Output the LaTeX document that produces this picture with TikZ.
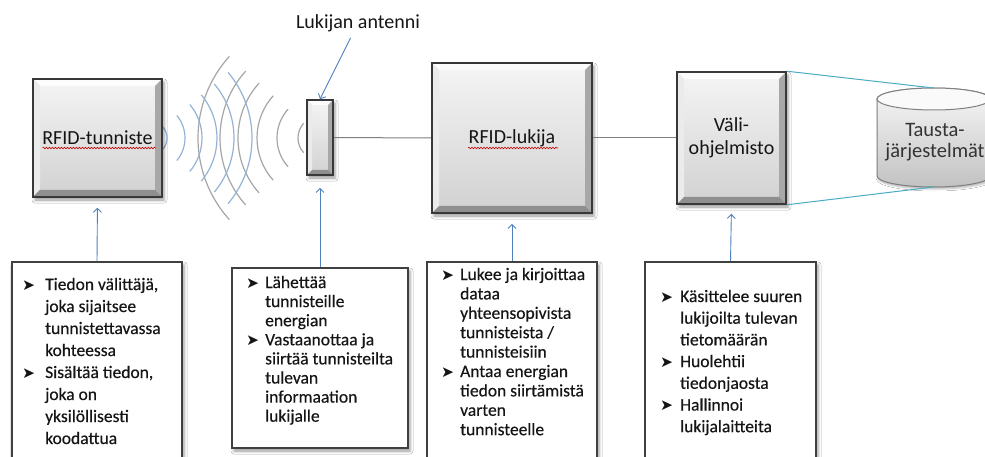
\documentclass[tikz,border=0pt]{standalone}
\usepackage{fontspec}
\setmainfont{Carlito}
\newfontfamily\symfont{DejaVu Sans}
\newfontfamily\listfont[FakeBold=0.35]{Carlito}
\usetikzlibrary{arrows.meta,shadows.blur,decorations.pathmorphing}

\definecolor{wavblue}{HTML}{95B3D7}
\definecolor{wavgray}{HTML}{A6A6A6}
\definecolor{linkgray}{HTML}{7F7F7F}
\definecolor{arrblue}{HTML}{4F81BD}
\definecolor{dbline}{HTML}{4BACC6}
\definecolor{ink}{HTML}{151515}

% arrowhead bullet for the description lists
\newcommand\bul{\raisebox{0pt}{\symfont\fontsize{15.5}{15.5}\selectfont ➤}}

% bevelled edges of the raised boxes
\newcommand\bevelfaces[1]{%
  \coordinate (bnw) at (path picture bounding box.north west);
  \coordinate (bne) at (path picture bounding box.north east);
  \coordinate (bsw) at (path picture bounding box.south west);
  \coordinate (bse) at (path picture bounding box.south east);
  \fill[black!1] (bnw) -- (bne) -- ([shift={(-#1,-#1)}]bne) -- ([shift={(#1,-#1)}]bnw) -- cycle;
  \fill[black!8] (bnw) -- ([shift={(#1,-#1)}]bnw) -- ([shift={(#1,#1)}]bsw) -- (bsw) -- cycle;
  \fill[black!34] (bne) -- ([shift={(-#1,-#1)}]bne) -- ([shift={(-#1,#1)}]bse) -- (bse) -- cycle;
  \fill[black!44] (bsw) -- ([shift={(#1,#1)}]bsw) -- ([shift={(-#1,#1)}]bse) -- (bse) -- cycle;
}

\begin{document}
\begin{tikzpicture}[x=1pt,y=-1pt,
  softshadow/.style={blur shadow={shadow xshift=2pt,shadow yshift=-3pt,shadow blur radius=3pt,shadow opacity=40}},
  bevelbox/.style={draw=black!78, line width=1.6pt, inner sep=0pt, top color=black!4, bottom color=black!18,
    font=\fontsize{20}{23}\selectfont, text=ink, align=center, softshadow,
    path picture={\bevelfaces{#1}}},
  frame/.style={draw=black!75, line width=1.1pt, fill=white, inner sep=0pt, softshadow},
  boxtext/.style={anchor=base west, inner sep=0pt, text=ink, font=\listfont\fontsize{17.5}{#1}\selectfont},
  wave/.style={line width=1.2pt},
  link/.style={draw=linkgray, line width=1pt},
  dblink/.style={draw=dbline, line width=1pt},
  uparrow/.style={draw=arrblue, line width=0.9pt, -{Straight Barb[length=4pt,width=8pt]}},
  spell/.style={draw=red!80!black, line width=0.6pt, decorate,
    decoration={snake, amplitude=0.8pt, segment length=3pt}}
]
\useasboundingbox (0,0) rectangle (985,457);
\clip (0,0) rectangle (985,457);
\fill[white] (0,0) rectangle (985,457);

% radio waves of the tag and of the reader antenna
\foreach \r in {22,43,63,82,100,122}
  \draw[wave,wavgray] (320,138) ++(138:\r) arc[start angle=138,end angle=222,radius=\r];
\foreach \r in {17,35,52,67,84,102}
  \draw[wave,wavblue] (150,138) ++(-40:\r) arc[start angle=-40,end angle=40,radius=\r];

% main components
\node[bevelbox=7pt, minimum width=129pt, minimum height=118pt] (tag) at (97.5,138) {RFID-tunniste};
\node[bevelbox=5pt, minimum width=26pt, minimum height=75pt] (ant) at (320,137.5) {};
\node[bevelbox=7pt, minimum width=160pt, minimum height=150pt] (reader) at (512,138) {RFID-lukija};
\node[bevelbox=7pt, minimum width=109pt, minimum height=132pt] (mw) at (731.5,138) {Väli-\\ohjelmisto};

\draw[spell] ([shift={(-55pt,-10pt)}]tag.center) -- ([shift={(58pt,-10pt)}]tag.center);
\draw[spell] ([shift={(-44pt,-10pt)}]reader.center) -- ([shift={(46pt,-10pt)}]reader.center);

% back-end database cylinder
\path[top color=black!3, bottom color=black!24, draw=black!50, line width=1pt,
      blur shadow={shadow xshift=1pt,shadow yshift=-2pt,shadow blur radius=2pt,shadow opacity=30}]
  (877,99) -- (877,176) arc[start angle=180,end angle=360,x radius=56.5pt,y radius=11pt]
  -- (990,99) arc[start angle=0,end angle=180,x radius=56.5pt,y radius=11pt] -- cycle;
\draw[black!50, line width=1pt, fill=black!2] (933.5,99) ellipse[x radius=56.5pt,y radius=11pt];
\coordinate (dbtop) at (933.5,88);
\coordinate (dbbot) at (933.5,187);
\node[font=\fontsize{20.5}{21}\selectfont, text=black!80, align=center] (dbtxt) at (935,142) {Tausta-\\järjestelmät};

% connections
\draw[link] (ant.east) -- (reader.west);
\draw[link] (reader.east) -- (mw.west);
\draw[dblink] (mw.north east) -- (dbtop);
\draw[dblink] (mw.south east) -- (dbbot);

% antenna caption
\node[font=\fontsize{20}{23}\selectfont, text=ink] (lbl) at (358,23) {Lukijan antenni};
\draw[uparrow, shorten <=3pt] ([xshift=-6pt]lbl.south) -- (ant.north);

% description boxes
\node[frame, minimum width=170pt, minimum height=213pt] (f1) at (97,368.5) {};
\node[frame, minimum width=176pt, minimum height=180pt] (f2) at (320,358) {};
\node[frame, minimum width=170pt, minimum height=213pt] (f3) at (512,368.5) {};
\node[frame, minimum width=171pt, minimum height=213pt] (f4) at (730.5,368.5) {};

\draw[uparrow, shorten >=10pt] (f1.north) -- (tag.south);
\draw[uparrow, shorten >=12pt] (f2.north) -- (ant.south);
\draw[uparrow, shorten >=10pt] (f3.north) -- (reader.south);
\draw[uparrow, shorten >=9pt] (f4.north) -- (mw.south);

\node[boxtext=22] (t1) at (22,290) {\begin{tabular}[t]{@{}p{23pt}@{}l@{}}
\bul & Tiedon välittäjä,\\
 & joka sijaitsee\\
 & tunnistettavassa\\
 & kohteessa\\
\bul & Sisältää tiedon,\\
 & joka on\\
 & yksilöllisesti\\
 & koodattua
\end{tabular}};

\node[boxtext=19.1] (t2) at (246,288) {\begin{tabular}[t]{@{}p{19pt}@{}l@{}}
\bul & Lähettää\\
 & tunnisteille\\
 & energian\\
\bul & Vastaanottaa ja\\
 & siirtää tunnisteilta\\
 & tulevan\\
 & informaation\\
 & lukijalle
\end{tabular}};

\node[boxtext=19.4] (t3) at (441,280) {\begin{tabular}[t]{@{}p{19pt}@{}l@{}}
\bul & Lukee ja kirjoittaa\\
 & dataa\\
 & yhteensopivista\\
 & tunnisteista /\\
 & tunnisteisiin\\
\bul & Antaa energian\\
 & tiedon siirtämistä\\
 & varten\\
 & tunnisteelle
\end{tabular}};

\node[boxtext=21.7] (t4) at (660,302) {\begin{tabular}[t]{@{}p{20pt}@{}l@{}}
\bul & Käsittelee suuren\\
 & lukijoilta tulevan\\
 & tietomäärän\\
\bul & Huolehtii\\
 & tiedonjaosta\\
\bul & Hallinnoi\\
 & lukijalaitteita
\end{tabular}};
\end{tikzpicture}
\end{document}
